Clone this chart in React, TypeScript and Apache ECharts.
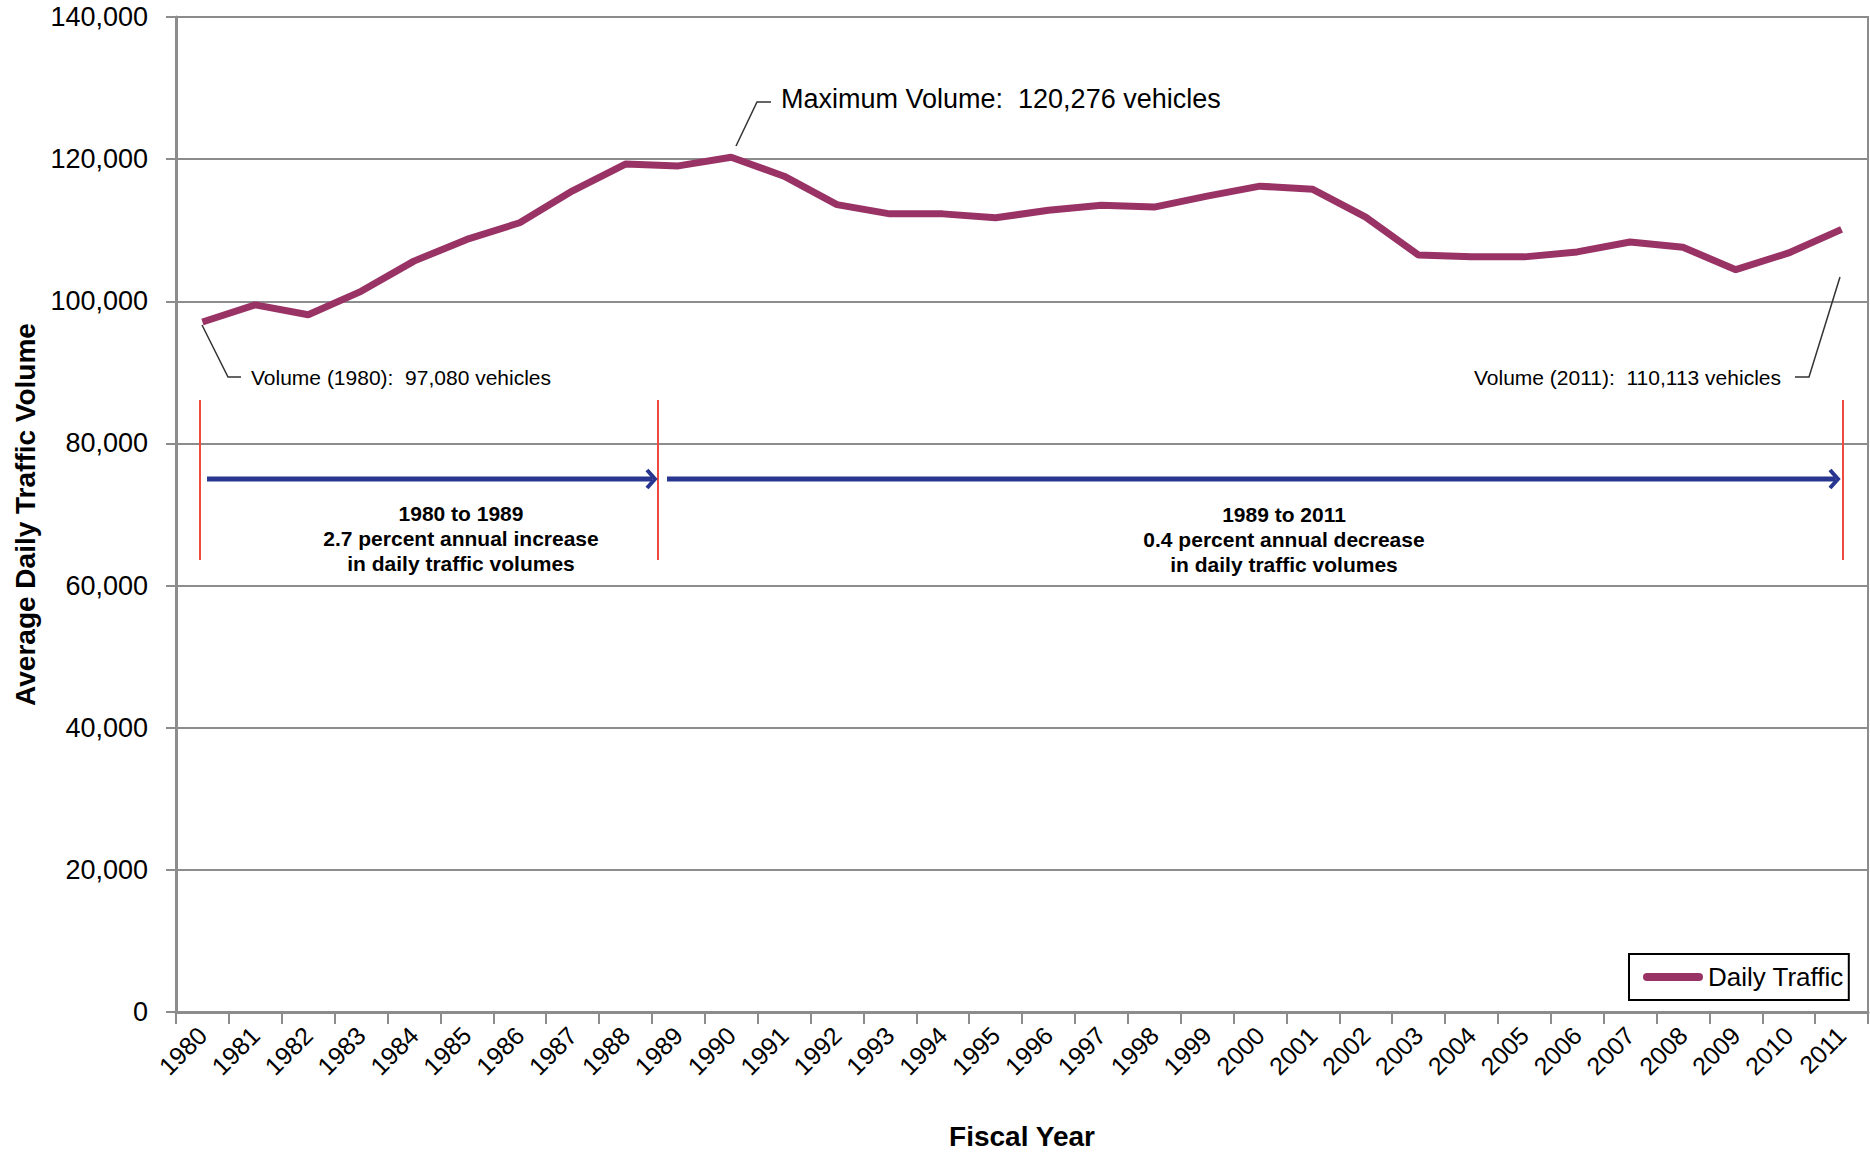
import React, { useEffect, useRef } from "react";
import * as echarts from "echarts";

const years = [
  "1980", "1981", "1982", "1983", "1984", "1985", "1986", "1987", "1988", "1989",
  "1990", "1991", "1992", "1993", "1994", "1995", "1996", "1997", "1998", "1999",
  "2000", "2001", "2002", "2003", "2004", "2005", "2006", "2007", "2008", "2009",
  "2010", "2011",
];

const dailyTraffic = [
  97080, 99500, 98100, 101400, 105650, 108700, 111050, 115550, 119300, 119050,
  120276, 117600, 113600, 112300, 112300, 111750, 112800, 113500, 113250, 114800,
  116200, 115750, 111850, 106500, 106250, 106250, 106950, 108350, 107600, 104450,
  106800, 110113,
];

const yMin = 0;
const yMax = 140000;
const yInterval = 20000;

const seriesName = "Daily Traffic";
const maxNote = "Maximum Volume:  120,276 vehicles";
const startNote = "Volume (1980):  97,080 vehicles";
const endNote = "Volume (2011):  110,113 vehicles";
const period1Note = "1980 to 1989\n2.7 percent annual increase\nin daily traffic volumes";
const period2Note = "1989 to 2011\n0.4 percent annual decrease\nin daily traffic volumes";

const FONT = "'Liberation Sans', Arial, Helvetica, sans-serif";

export default function App() {
  const ref = useRef<HTMLDivElement>(null);

  useEffect(() => {
    if (!ref.current) return;
    const chart = echarts.init(ref.current, null, { renderer: "svg" });
    const gridColor = "#8c8c8c";
    const red = "#f04a3f";
    const navy = "#28368f";
    const lead = "#333333";

    chart.setOption({
      animation: false,
      backgroundColor: "#ffffff",
      textStyle: { fontFamily: FONT },
      grid: {
        left: 176,
        top: 17,
        width: 1692,
        height: 1002,
        show: true,
        borderColor: gridColor,
        borderWidth: 2,
        containLabel: false,
      },
      legend: {
        show: true,
        left: 1629,
        top: 954,
        orient: "horizontal",
        data: [seriesName],
        icon: "path://M4,0 L56,0 A4,4 0 0 1 56,8 L4,8 A4,4 0 0 1 4,0 Z",
        itemWidth: 60,
        itemHeight: 8,
        borderColor: "#000",
        borderWidth: 2,
        padding: [10, 5, 10, 14],
        textStyle: { fontSize: 26, color: "#000", fontFamily: FONT },
      },
      xAxis: {
        type: "category",
        data: years,
        boundaryGap: true,
        name: "Fiscal Year",
        nameLocation: "middle",
        nameGap: 110,
        nameTextStyle: { fontSize: 28, fontWeight: "bold", color: "#000", fontFamily: FONT },
        axisLine: { show: true, lineStyle: { color: gridColor, width: 3 } },
        axisTick: { show: true, alignWithLabel: false, interval: 0, length: 12, lineStyle: { color: gridColor, width: 2 } },
        axisLabel: { interval: 0, rotate: 45, fontSize: 25, color: "#000", margin: 19, fontFamily: FONT },
        splitLine: { show: false },
      },
      yAxis: {
        type: "value",
        min: yMin,
        max: yMax,
        interval: yInterval,
        name: "Average Daily Traffic Volume",
        nameLocation: "middle",
        nameGap: 136,
        nameTextStyle: { fontSize: 28, fontWeight: "bold", color: "#000", fontFamily: FONT },
        axisLine: { show: true, lineStyle: { color: gridColor, width: 3 } },
        axisTick: { show: true, length: 10, lineStyle: { color: gridColor, width: 2 } },
        axisLabel: {
          fontSize: 27,
          color: "#000",
          margin: 28,
          fontFamily: FONT,
          formatter: (v: number) => v.toLocaleString("en-US"),
        },
        splitLine: { show: true, lineStyle: { color: gridColor, width: 2 } },
      },
      series: [
        {
          name: seriesName,
          type: "line",
          data: dailyTraffic,
          showSymbol: false,
          symbol: "none",
          color: "#993366",
          lineStyle: { color: "#993366", width: 7 },
          z: 3,
        },
      ],
      graphic: [
        { type: "polyline", shape: { points: [[736, 146], [757, 102], [771, 102]] }, style: { stroke: lead, lineWidth: 1.5, fill: null }, z: 10 },
        { type: "text", x: 781, y: 99, style: { text: maxNote, fontSize: 27, fontFamily: FONT, fill: "#000", align: "left", verticalAlign: "middle" }, z: 10 },
        { type: "polyline", shape: { points: [[202, 325], [228, 377], [241, 377]] }, style: { stroke: lead, lineWidth: 1.5, fill: null }, z: 10 },
        { type: "text", x: 251, y: 377, style: { text: startNote, fontSize: 21, fontFamily: FONT, fill: "#000", align: "left", verticalAlign: "middle" }, z: 10 },
        { type: "polyline", shape: { points: [[1795, 377], [1809, 377], [1840, 277]] }, style: { stroke: lead, lineWidth: 1.5, fill: null }, z: 10 },
        { type: "text", x: 1781, y: 377, style: { text: endNote, fontSize: 21, fontFamily: FONT, fill: "#000", align: "right", verticalAlign: "middle" }, z: 10 },
        { type: "line", shape: { x1: 200, y1: 400, x2: 200, y2: 560 }, style: { stroke: red, lineWidth: 2 }, z: 10 },
        { type: "line", shape: { x1: 658, y1: 400, x2: 658, y2: 560 }, style: { stroke: red, lineWidth: 2 }, z: 10 },
        { type: "line", shape: { x1: 1843, y1: 400, x2: 1843, y2: 560 }, style: { stroke: red, lineWidth: 2 }, z: 10 },
        { type: "line", shape: { x1: 207, y1: 479, x2: 652, y2: 479 }, style: { stroke: navy, lineWidth: 5 }, z: 11 },
        { type: "polyline", shape: { points: [[647, 470], [655, 479], [647, 488]] }, style: { stroke: navy, lineWidth: 4, fill: null }, z: 11 },
        { type: "line", shape: { x1: 667, y1: 479, x2: 1835, y2: 479 }, style: { stroke: navy, lineWidth: 5 }, z: 11 },
        { type: "polyline", shape: { points: [[1830, 470], [1838, 479], [1830, 488]] }, style: { stroke: navy, lineWidth: 4, fill: null }, z: 11 },
        { type: "text", x: 461, y: 538, style: { text: period1Note, fontSize: 21, fontWeight: "bold", lineHeight: 25, fontFamily: FONT, fill: "#000", align: "center", verticalAlign: "middle" }, z: 10 },
        { type: "text", x: 1284, y: 539, style: { text: period2Note, fontSize: 21, fontWeight: "bold", lineHeight: 25, fontFamily: FONT, fill: "#000", align: "center", verticalAlign: "middle" }, z: 10 },
      ],
    });

    return () => chart.dispose();
  }, []);

  return (
    <div
      ref={ref}
      style={{ position: "absolute", left: 0, top: 0, width: 1870, height: 1155, background: "#fff" }}
    />
  );
}
